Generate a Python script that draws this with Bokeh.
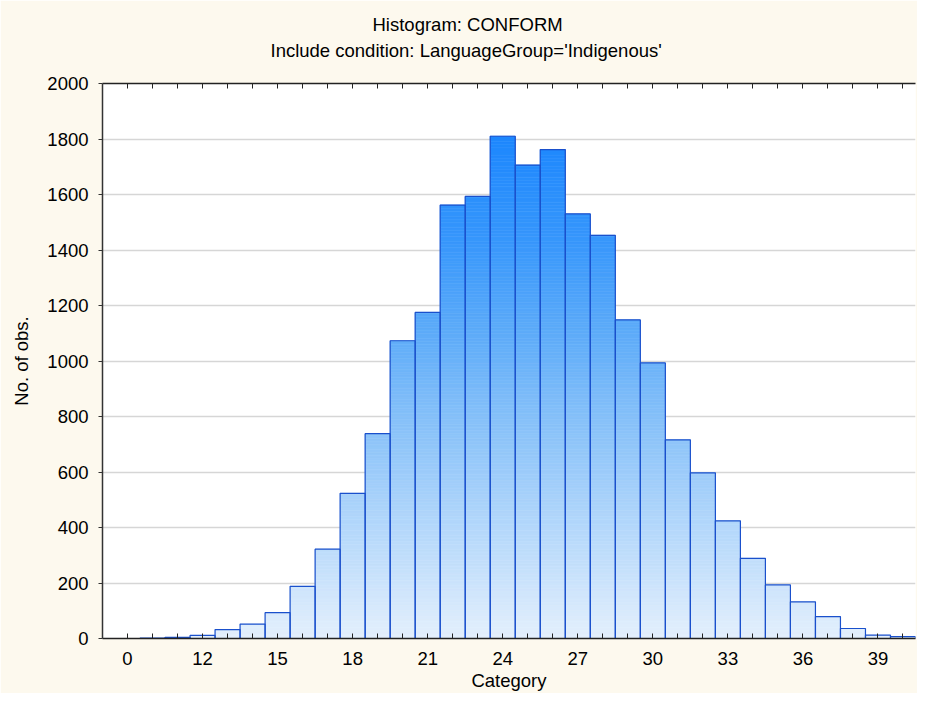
import numpy as np
from bokeh.plotting import figure
from bokeh.models import FixedTicker, LinearAxis, Title, Range1d, ColumnDataSource
from bokeh.embed import file_html
from bokeh.resources import INLINE

# ---- data ----
categories = list(range(9, 41))
counts = [0, 1, 4, 11, 32, 52, 93, 188, 322, 523, 738, 1073, 1175, 1562, 1593, 1810,
          1706, 1762, 1530, 1453, 1148, 993, 716, 597, 424, 289, 193, 132, 79, 36, 12, 7]
tick_positions = [9, 12, 15, 18, 21, 24, 27, 30, 33, 36, 39]
tick_labels = ["0", "12", "15", "18", "21", "24", "27", "30", "33", "36", "39"]
y_ticks = [0, 200, 400, 600, 800, 1000, 1200, 1400, 1600, 1800, 2000]

title_main = "Histogram: CONFORM"
title_sub = "Include condition: LanguageGroup='Indigenous'"
x_label = "Category"
y_label = "No. of obs."

FONT = "Liberation Sans"
FS = "18.5px"
BG = "#fdf9ee"

# gradient colour stops (style, by value level)
stop_v = [0, 870, 1050, 1440, 1800, 2000]
stop_r = [228, 125, 100, 55, 30, 22]
stop_g = [240, 188, 175, 151, 136, 130]
stop_b = [253, 249, 249, 252, 254, 255]

p = figure(width=917, height=693, output_backend="svg", toolbar_location=None,
           title=None,
           x_range=Range1d(8.0, 40.5), y_range=Range1d(0, 2000),
           background_fill_color="white", border_fill_color=BG,
           min_border_left=102, min_border_right=2, min_border_top=83,
           min_border_bottom=52, outline_line_color=None)

# gradient slices for each bar
step = 10
L, R, B, T, C = [], [], [], [], []
for c, v in zip(categories, counts):
    lows = np.arange(0, v, step)
    for lo in lows:
        hi = min(lo + step, v)
        mid = (lo + hi) / 2.0
        r = int(np.interp(mid, stop_v, stop_r))
        g = int(np.interp(mid, stop_v, stop_g))
        b = int(np.interp(mid, stop_v, stop_b))
        L.append(c - 0.5); R.append(c + 0.5); B.append(lo); T.append(hi)
        C.append("#%02x%02x%02x" % (r, g, b))
src = ColumnDataSource(dict(left=L, right=R, bottom=B, top=T, color=C))
p.quad(left="left", right="right", bottom="bottom", top="top", source=src,
       fill_color="color", line_color="color", line_width=0.6)

bars = ColumnDataSource(dict(left=[c - 0.5 for c in categories],
                             right=[c + 0.5 for c in categories],
                             top=counts, bottom=[0] * len(counts)))
p.quad(left="left", right="right", bottom="bottom", top="top", source=bars,
       fill_color=None, line_color="#1a50cc", line_width=1.2)

# grid
p.xgrid.visible = False
p.ygrid.ticker = FixedTicker(ticks=y_ticks)
p.ygrid.grid_line_color = "#d6d6d6"
p.ygrid.grid_line_width = 1.5
p.ygrid.level = "underlay"

# x axis
overrides = {c: "" for c in categories}
for pos, lab in zip(tick_positions, tick_labels):
    overrides[pos] = lab
xa = p.xaxis[0]
xa.ticker = FixedTicker(ticks=categories)
xa.major_label_overrides = overrides
xa.major_tick_in = 5
xa.major_tick_out = 0
xa.minor_tick_line_color = None
xa.axis_line_color = "#222222"
xa.axis_line_width = 1.5
xa.major_tick_line_color = "#222222"
xa.major_label_text_font = FONT
xa.major_label_text_font_size = FS
xa.major_label_text_color = "black"
xa.major_label_standoff = 13
xa.axis_label = x_label
xa.axis_label_text_font = FONT
xa.axis_label_text_font_size = FS
xa.axis_label_text_font_style = "normal"
xa.axis_label_text_color = "black"
xa.axis_label_standoff = 2

# y axis
ya = p.yaxis[0]
ya.ticker = FixedTicker(ticks=y_ticks)
ya.major_tick_in = 0
ya.major_tick_out = 4
ya.minor_tick_line_color = None
ya.axis_line_color = "#333333"
ya.axis_line_width = 1.5
ya.major_tick_line_color = "#333333"
ya.major_label_text_font = FONT
ya.major_label_text_font_size = FS
ya.major_label_text_color = "black"
ya.major_label_standoff = 10
ya.axis_label = y_label
ya.axis_label_text_font = FONT
ya.axis_label_text_font_size = FS
ya.axis_label_text_font_style = "normal"
ya.axis_label_text_color = "black"
ya.axis_label_standoff = 12

# top axis with inward ticks
ta = LinearAxis(ticker=FixedTicker(ticks=categories))
ta.major_label_text_font_size = "0px"
ta.major_label_text_color = None
ta.major_label_standoff = 0
ta.major_tick_in = 5
ta.major_tick_out = 0
ta.minor_tick_line_color = None
ta.axis_line_color = "#222222"
ta.axis_line_width = 1.5
ta.major_tick_line_color = "#222222"
p.add_layout(ta, "above")

# spacer panel, then the two title lines (left aligned, offset so they centre on the figure)
spacer = Title(text=".", text_font_size="2px", standoff=20, text_color=BG)
t_sub = Title(text=title_sub, align="left", text_font=FONT, text_font_size=FS,
              text_font_style="normal", text_color="black", offset=168, standoff=0)
t_main = Title(text=title_main, align="left", text_font=FONT, text_font_size=FS,
               text_font_style="normal", text_color="black", offset=270, standoff=6)
p.add_layout(spacer, "above")
p.add_layout(t_sub, "above")
p.add_layout(t_main, "above")

open("out.html", "w").write(file_html(p, INLINE))
